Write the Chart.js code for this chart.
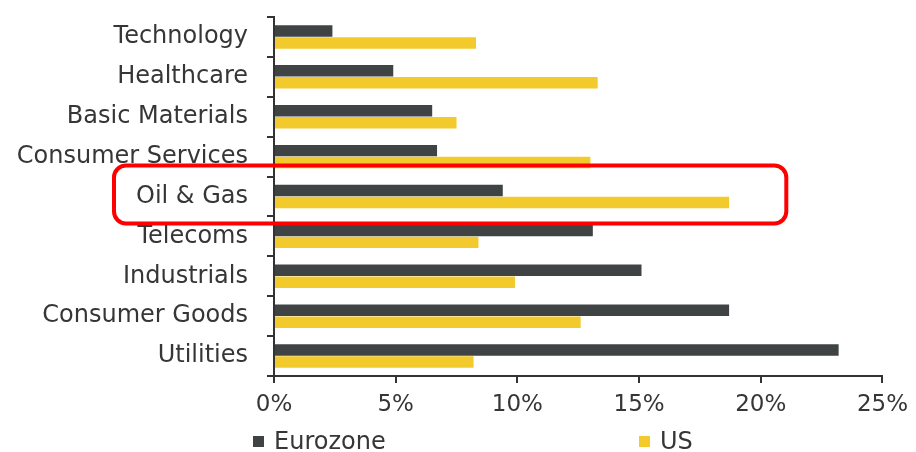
<!DOCTYPE html>
<html>
<head>
<meta charset="utf-8">
<script src="https://cdn.jsdelivr.net/npm/chart.js@4/dist/chart.umd.min.js"></script>
<style>
  html, body { margin: 0; padding: 0; background: #fff; }
  #wrap { width: 916px; height: 452px; position: relative; }
</style>
</head>
<body>
<div id="wrap"><canvas id="chart"></canvas></div>
<script>
const sectors = [
  "Technology", "Healthcare", "Basic Materials", "Consumer Services",
  "Oil & Gas", "Telecoms", "Industrials", "Consumer Goods", "Utilities"
];
const eurozone = [2.4, 4.9, 6.5, 6.7, 9.4, 13.1, 15.1, 18.7, 23.2];
const us = [8.3, 13.3, 7.5, 13.0, 18.7, 8.4, 9.9, 12.6, 8.2];
const xTickValues = [0, 5, 10, 15, 20, 25];
const highlightSector = "Oil & Gas";

const FONT = '"DejaVu Sans", "Liberation Sans", Arial, sans-serif';
const TEXT = "#363636";
const AXIS = "#333333";

// red call-out box round the highlighted sector + the split legend at the bottom
const extras = {
  id: "extras",
  afterDraw(chart) {
    const { ctx, chartArea, scales } = chart;
    const cy = scales.y.getPixelForValue(sectors.indexOf(highlightSector));
    const left = chartArea.left - 160;
    const right = scales.x.getPixelForValue(21.05);
    ctx.save();
    ctx.strokeStyle = "#ff0000";
    ctx.lineWidth = 4;
    ctx.beginPath();
    ctx.roundRect(left, cy - 31, right - left, 58, 12);
    ctx.stroke();

    const spots = [chartArea.left - 21, chartArea.left + 365];
    ctx.font = "24px " + FONT;
    ctx.textBaseline = "alphabetic";
    chart.data.datasets.forEach((ds, i) => {
      const x = spots[i];
      ctx.fillStyle = ds.backgroundColor;
      ctx.fillRect(x, chartArea.bottom + 60, 11, 11);
      ctx.fillStyle = TEXT;
      ctx.fillText(ds.label, x + 21, chartArea.bottom + 73);
    });
    ctx.restore();
  }
};

new Chart(document.getElementById("chart"), {
  type: "bar",
  data: {
    labels: sectors,
    datasets: [
      {
        label: "Eurozone",
        data: eurozone,
        backgroundColor: "#3f4344",
        barPercentage: 0.96,
        categoryPercentage: 0.6,
      },
      {
        label: "US",
        data: us,
        backgroundColor: "#f3ca2c",
        barPercentage: 0.96,
        categoryPercentage: 0.6,
      },
    ],
  },
  options: {
    indexAxis: "y",
    responsive: true,
    maintainAspectRatio: false,
    animation: false,
    layout: { padding: { top: 17, right: 30, left: 0, bottom: 0 } },
    plugins: {
      legend: { display: false },
      tooltip: { enabled: false },
    },
    scales: {
      x: {
        min: 0,
        max: 25,
        afterBuildTicks: (s) => { s.ticks = xTickValues.map((v) => ({ value: v })); },
        afterFit: (s) => { s.height = 76; },
        grid: { drawOnChartArea: false, drawTicks: true, tickLength: 7, color: AXIS, lineWidth: 2 },
        border: { display: true, color: AXIS, width: 2 },
        ticks: {
          callback: (v) => v + "%",
          color: TEXT,
          padding: 8,
          font: { family: FONT, size: 23 },
        },
      },
      y: {
        afterFit: (s) => { s.width = 274; s.paddingTop = 0; s.paddingBottom = 0; },
        grid: { drawOnChartArea: false, drawTicks: true, tickLength: 7, color: AXIS, lineWidth: 2, offset: true },
        border: { display: true, color: AXIS, width: 2 },
        ticks: {
          color: TEXT,
          padding: 19,
          font: { family: FONT, size: 24 },
        },
      },
    },
  },
  plugins: [extras],
});
</script>
</body>
</html>
